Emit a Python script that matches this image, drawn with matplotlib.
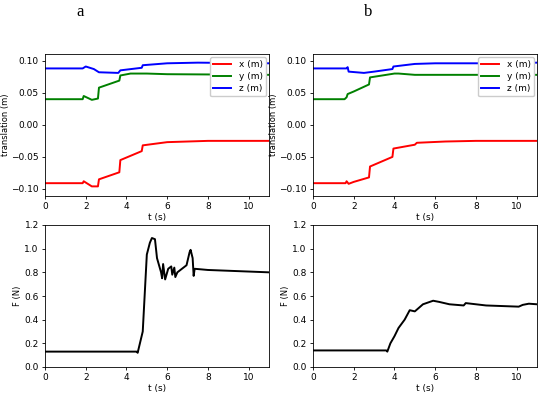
import matplotlib
matplotlib.use('Agg')
import matplotlib.pyplot as plt

# panel a - translation
ta_x = [0, 1.85, 1.9, 2.3, 2.6, 2.65, 3.65, 3.7, 4.75, 4.8, 6.0, 8.0, 11.0]
a_x = [-0.091, -0.091, -0.088, -0.096, -0.096, -0.085, -0.074, -0.055, -0.041, -0.032, -0.027, -0.025, -0.025]
ta_y = [0, 1.85, 1.9, 2.3, 2.6, 2.65, 3.65, 3.7, 4.2, 5.0, 6.0, 11.0]
a_y = [0.040, 0.040, 0.045, 0.039, 0.041, 0.058, 0.069, 0.077, 0.080, 0.080, 0.079, 0.078]
ta_z = [0, 1.85, 2.0, 2.4, 2.65, 3.6, 3.7, 4.75, 4.8, 6.0, 7.5, 11.0]
a_z = [0.088, 0.088, 0.091, 0.087, 0.082, 0.081, 0.085, 0.089, 0.093, 0.096, 0.097, 0.096]

# panel b - translation
tb_x = [0, 1.6, 1.65, 1.75, 2.0, 2.75, 2.8, 3.9, 3.95, 5.0, 5.1, 6.5, 8.0, 11.0]
b_x = [-0.091, -0.091, -0.088, -0.092, -0.089, -0.082, -0.065, -0.050, -0.037, -0.031, -0.028, -0.026, -0.025, -0.025]
tb_y = [0, 1.55, 1.65, 1.7, 2.0, 2.75, 2.8, 4.0, 4.2, 5.0, 11.0]
b_y = [0.040, 0.040, 0.043, 0.048, 0.052, 0.063, 0.074, 0.080, 0.080, 0.078, 0.078]
tb_z = [0, 1.65, 1.7, 1.75, 2.5, 3.0, 3.9, 3.95, 5.0, 6.0, 9.0, 11.0]
b_z = [0.088, 0.088, 0.090, 0.083, 0.081, 0.083, 0.087, 0.091, 0.095, 0.096, 0.096, 0.097]

# force
ta_f = [0, 4.5, 4.55, 4.8, 5.0, 5.15, 5.25, 5.4, 5.5, 5.7, 5.75, 5.8, 5.9, 6.05, 6.2,
        6.25, 6.35, 6.4, 6.5, 6.95, 7.1, 7.15, 7.25, 7.3, 7.35, 8.0, 11.0]
a_f = [0.13, 0.13, 0.12, 0.30, 0.95, 1.05, 1.09, 1.08, 0.92, 0.80, 0.75, 0.87, 0.74, 0.83, 0.85,
       0.78, 0.84, 0.76, 0.80, 0.86, 0.97, 0.99, 0.92, 0.77, 0.83, 0.82, 0.80]
tb_f = [0, 3.6, 3.65, 3.8, 4.0, 4.2, 4.5, 4.75, 5.0, 5.4, 5.9, 6.2, 6.7, 7.4, 7.5,
        8.5, 10.1, 10.3, 10.6, 11.0]
b_f = [0.14, 0.14, 0.13, 0.20, 0.26, 0.33, 0.40, 0.48, 0.47, 0.53, 0.56, 0.55, 0.53, 0.52, 0.54,
       0.52, 0.51, 0.525, 0.535, 0.53]

fig = plt.figure(figsize=(5.5, 3.99), dpi=100)
W, H = 550, 399


def add_ax(x0, y0, x1, y1):
    return fig.add_axes([x0 / W, 1 - y1 / H, (x1 - x0) / W, (y1 - y0) / H])


def style(ax):
    ax.set_xlim(0, 11)
    ax.set_xticks([0, 2, 4, 6, 8, 10])
    ax.tick_params(labelsize=6.5, length=2.5, width=0.6, pad=2)
    ax.set_xlabel('t (s)', fontsize=6.5, labelpad=1)
    for s in ax.spines.values():
        s.set_linewidth(0.6)


panels = [
    ('a', 45, 80, (ta_x, a_x, ta_y, a_y, ta_z, a_z), (ta_f, a_f)),
    ('b', 313, 368, (tb_x, b_x, tb_y, b_y, tb_z, b_z), (tb_f, b_f)),
]

for label, left, lx, tr, fr in panels:
    ax = add_ax(left, 54, left + 224, 196)
    ax.plot(tr[0], tr[1], color='red', lw=1.4, label='x (m)')
    ax.plot(tr[2], tr[3], color='green', lw=1.4, label='y (m)')
    ax.plot(tr[4], tr[5], color='blue', lw=1.4, label='z (m)')
    style(ax)
    ax.set_ylim(-0.111, 0.1105)
    ax.set_yticks([-0.10, -0.05, 0.0, 0.05, 0.10])
    ax.set_yticklabels(['\u22120.10', '\u22120.05', '0.00', '0.05', '0.10'])
    ax.set_ylabel('translation (m)', fontsize=6, labelpad=1)
    ax.legend(loc='upper right', fontsize=6.5, handlelength=2.0, borderaxespad=0.3,
              framealpha=1, labelspacing=0.3)

    ax2 = add_ax(left, 225, left + 224, 367)
    ax2.plot(fr[0], fr[1], color='black', lw=1.4)
    style(ax2)
    ax2.set_ylim(0, 1.2)
    ax2.set_yticks([0.0, 0.2, 0.4, 0.6, 0.8, 1.0, 1.2])
    ax2.set_ylabel('F (N)', fontsize=6, labelpad=2)

    fig.text(lx / W, 1 - 12 / H, label, fontsize=12, family='Liberation Serif',
             ha='center', va='center')

fig.savefig('out.png', dpi=100)
